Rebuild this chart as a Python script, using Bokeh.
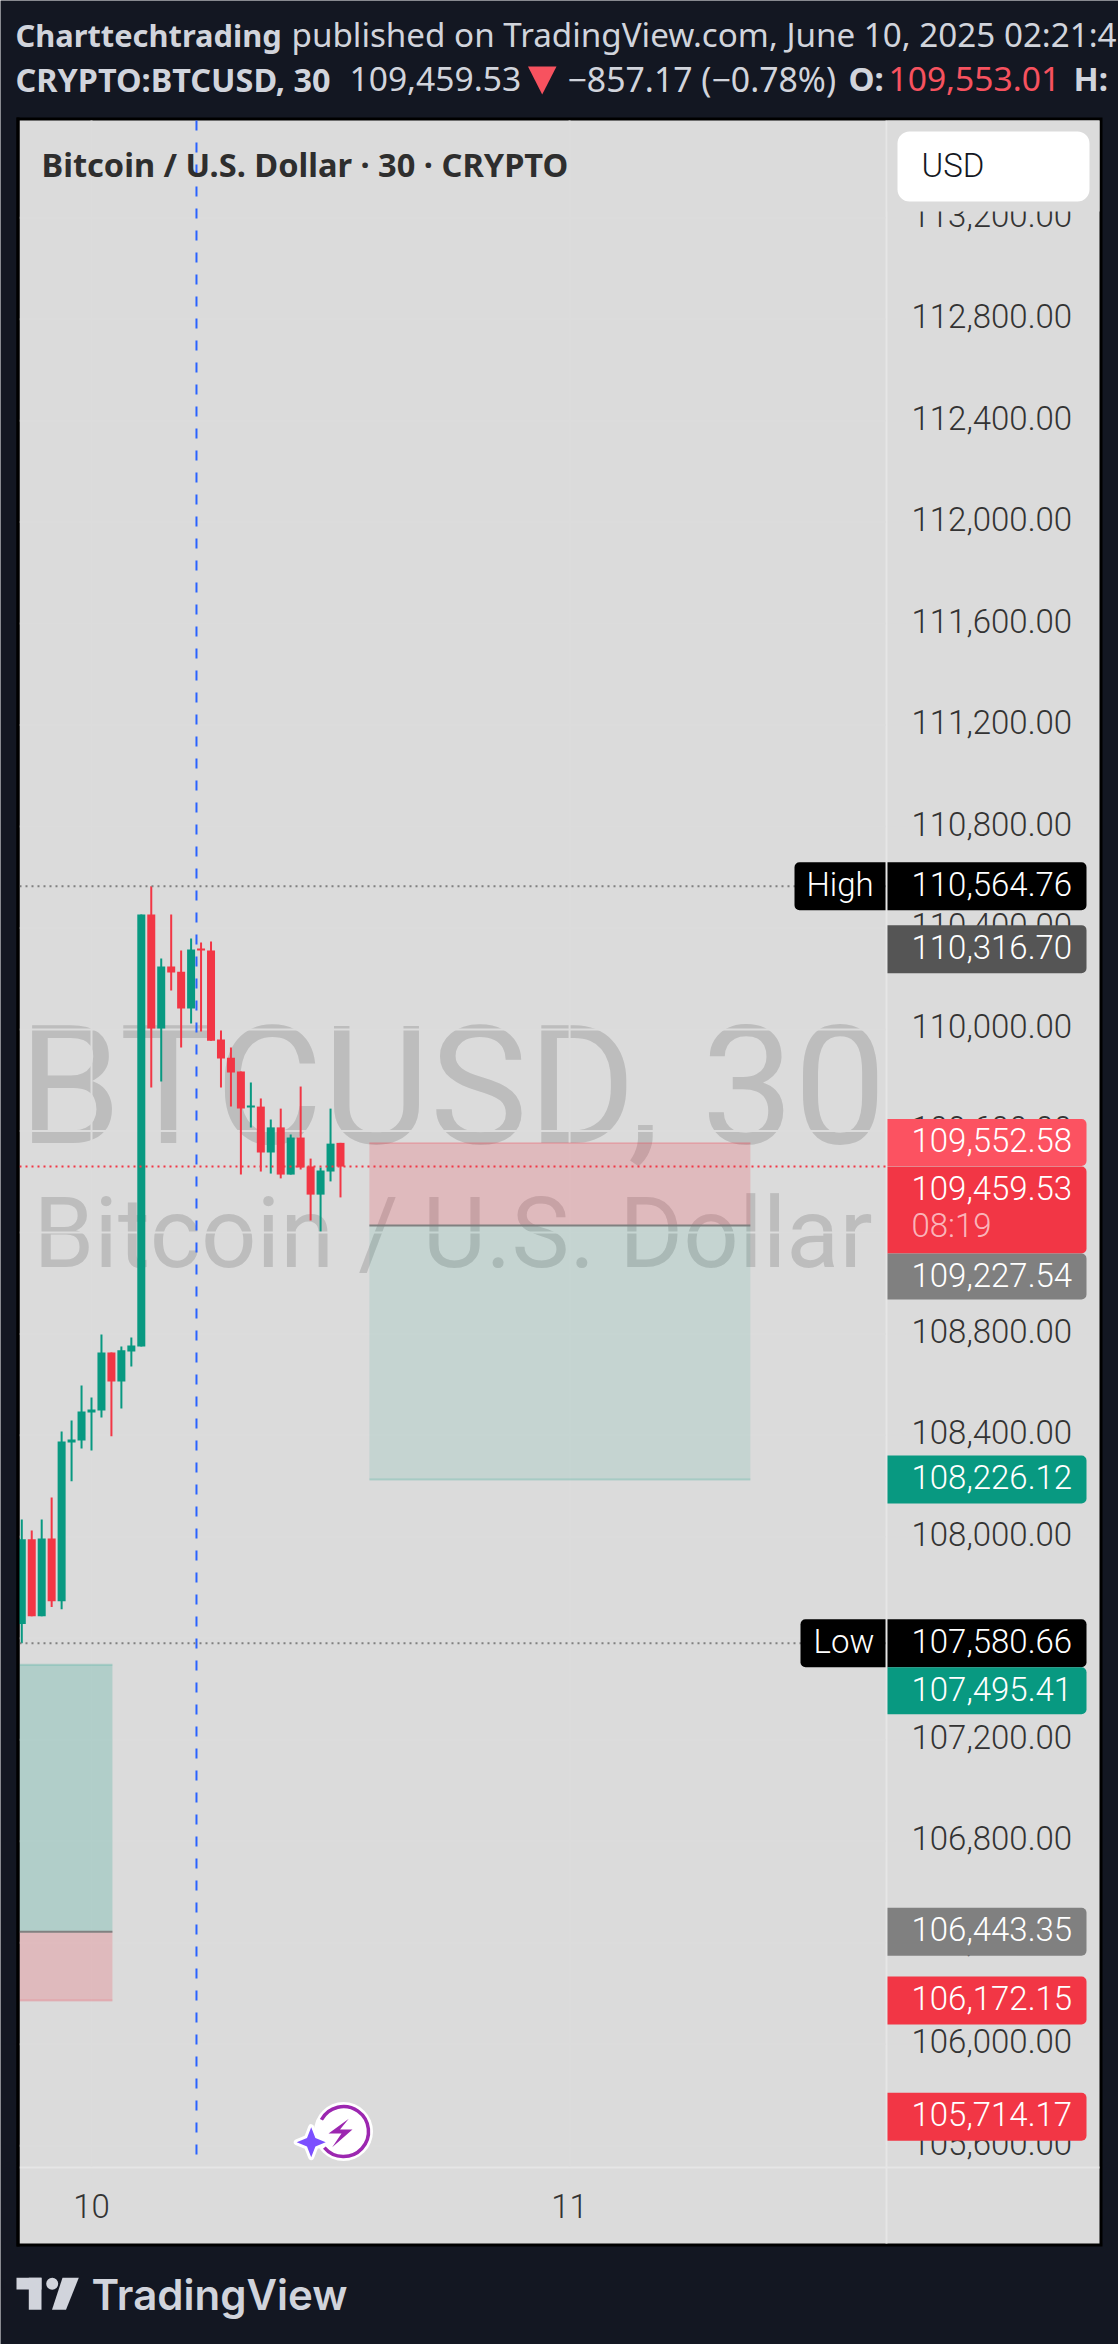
import math
from bokeh.core.properties import value
from bokeh.embed import file_html
from bokeh.models import BoxAnnotation, ColumnDataSource, Label, PolyAnnotation, Range1d
from bokeh.plotting import figure
from bokeh.resources import INLINE

# ---------- data ----------
bars = list(range(-7, 26))
opens = [107656, 107990, 107687, 107993, 107746, 108372, 108380, 108490, 108498, 108727, 108612, 108731, 108750,
         110453, 110004, 110248, 110228, 110083, 110319, 110311, 109960, 109889, 109834, 109692, 109696, 109515,
         109614, 109428, 109574, 109460, 109349, 109440, 109553.01]
highs = [108068, 108025, 108068, 108155, 108415, 108459, 108597, 108549, 108798, 108727, 108750, 108786, 110453,
         110564.76, 110280, 110453, 110311, 110359, 110343, 110347, 109996, 109929, 109834, 109791, 109728, 109645,
         109688, 109586, 109775, 109491, 109456, 109688, 109553.01]
lows = [107580.66, 107687, 107687, 107723, 107715, 108219, 108348, 108340, 108470, 108396, 108506, 108671, 108750,
        109771, 109795, 110154, 109929, 110024, 109992, 109956, 109771, 109696, 109428, 109614, 109440, 109432,
        109413, 109428, 109448, 109247, 109204, 109401, 109338]
closes = [107990, 107687, 107993, 107746, 108376, 108384, 108494, 108502, 108727, 108612, 108735, 108754, 110453,
          110004, 110248, 110225, 110083, 110315, 110311, 109956, 109886, 109830, 109688, 109700, 109515, 109614,
          109428, 109574, 109456, 109349, 109444, 109550, 109459.53]

price_ticks = [105600, 106000, 106400, 106800, 107200, 107600, 108000, 108400, 108800, 109200, 109600, 110000, 110400,
               110800, 111200, 111600, 112000, 112400, 112800, 113200]
price_tick_labels = ["105,600.00", "106,000.00", "106,400.00", "106,800.00", "107,200.00", "107,600.00", "108,000.00",
                     "108,400.00", "108,800.00", "109,200.00", "109,600.00", "110,000.00", "110,400.00", "110,800.00",
                     "111,200.00", "111,600.00", "112,000.00", "112,400.00", "112,800.00", "113,200.00"]
time_ticks = [0, 48]
time_labels = ["10", "11"]

tag_prices = [110564.76, 110316.70, 109552.58, 109459.53, 109227.54, 108226.12, 107580.66, 107495.41, 106443.35,
              106172.15, 105714.17]
tag_labels = ["110,564.76", "110,316.70", "109,552.58", "109,459.53", "109,227.54", "108,226.12", "107,580.66",
              "107,495.41", "106,443.35", "106,172.15", "105,714.17"]
tag_colors = ["#000000", "#555555", "#FC5261", "#F23645", "#808080", "#089981", "#000000", "#089981", "#808080",
              "#F23645", "#F23645"]
tag_shift = [0, 0, 0, 24, 52, 0, 0, 26.5, 0, 0, 0]
tag_height = [48, 48, 47, 87, 46, 48, 48, 47, 48, 48, 48]

short_pos = dict(right=66.15, left=27.9, stop=109552.58, entry=109227.54, target=108226.12)
long_pos = dict(right=2.1, left=-7.23, stop=106172.15, entry=106443.35, target=107495.41)
high_price, low_price, last_price = 110564.76, 107580.66, 109459.53
marker_bar = 10.54
marker_start = 105565

# ---------- scale of the picture ----------
BAR_PX = 9.96
BAR0_X = 91
REF_PRICE, REF_Y, PX_PER_USD = 110564.76, 885.7, 0.25368
W, H = 1118, 2344
FL, FR, FT, FB = 19, 885, 120, 2166


def xd(X):
    return (X - BAR0_X) / BAR_PX


def yd(Y):
    return REF_PRICE - (Y - REF_Y) / PX_PER_USD


BG, DARK, GREEN, RED, INK, PALE = "#DBDBDB", "#131722", "#089981", "#F23645", "#333333", "#D1D4DC"
LIGHT = "Roboto Light, Roboto"

p = figure(width=W, height=H, output_backend="svg", toolbar_location=None, tools="",
           x_range=Range1d(xd(0), xd(W)), y_range=Range1d(yd(H), yd(0)),
           x_axis_location=None, y_axis_location=None, min_border=0)
p.background_fill_color = DARK
p.border_fill_color = DARK
p.outline_line_color = None
p.grid.visible = False


def box(l, r, t, b, color, level="underlay", radius=0, alpha=1.0):
    a = BoxAnnotation(left=l, right=r, top=t, bottom=b, left_units="canvas", right_units="canvas",
                      top_units="canvas", bottom_units="canvas", fill_color=color, fill_alpha=alpha, line_color=None,
                      level=level, border_radius=radius)
    p.add_layout(a)
    return a


def text(t, X, Y, size, color=INK, font=LIGHT, style="normal", align="left", level="overlay", alpha=1.0):
    p.add_layout(Label(x=X, y=Y, x_units="canvas", y_units="canvas", text=t, text_font=font,
                       text_font_size=f"{size}px", text_font_style=style, text_color=color, text_alpha=alpha,
                       text_align=align, text_baseline="middle", level=level))


# pane, separators and frame
box(16, 1102, 117, 2246, "#000000")
box(19, 1099, 120, 2243, BG)
box(885, 887, 120, 2243, "#E6E6E6")
box(19, 1099, 2166, 2168, "#E6E6E6")
box(16, 19, 117, 2246, "#000000", level="overlay")

# watermark
text("BTCUSD, 30", 18, 1086, 165, "#BDBDBD", font="Roboto", level="underlay")
text("Bitcoin / U.S. Dollar", 33, 1233, 97.5, "#BDBDBD", font="Roboto", level="underlay")

# grid
p.segment(x0=[xd(FL)] * len(price_ticks), x1=[xd(FR)] * len(price_ticks), y0=price_ticks, y1=price_ticks,
          line_color="#DCDCDC", line_width=2)
p.segment(x0=time_ticks, x1=time_ticks, y0=[yd(FB)] * 2, y1=[yd(FT)] * 2, line_color="#DCDCDC", line_width=2)

# axis labels
p.text(x=[xd(911)] * len(price_ticks), y=price_ticks, text=price_tick_labels, text_font=value(LIGHT),
       text_font_size="33px", text_color=INK, text_align="left", text_baseline="middle", y_offset=-3)
p.text(x=time_ticks, y=[yd(2205)] * 2, text=time_labels, text_font=value(LIGHT), text_font_size="33px",
       text_color=INK, text_align="center", text_baseline="middle")

# position tools
for pos, green_alpha in ((short_pos, 0.10), (long_pos, 0.20)):
    lo, hi = sorted((pos["stop"], pos["entry"]))
    p.quad(left=[pos["left"]], right=[pos["right"]], top=[hi], bottom=[lo], fill_color=RED, fill_alpha=0.2,
           line_color=None)
    lo, hi = sorted((pos["target"], pos["entry"]))
    p.quad(left=[pos["left"]], right=[pos["right"]], top=[hi], bottom=[lo], fill_color=GREEN, fill_alpha=green_alpha,
           line_color=None)
    p.segment(x0=[pos["left"]], x1=[pos["right"]], y0=[pos["stop"]], y1=[pos["stop"]], line_color=RED, line_alpha=0.2,
              line_width=2)
    p.segment(x0=[pos["left"]], x1=[pos["right"]], y0=[pos["target"]], y1=[pos["target"]], line_color=GREEN,
              line_alpha=0.2, line_width=2)
    p.segment(x0=[pos["left"]], x1=[pos["right"]], y0=[pos["entry"]], y1=[pos["entry"]], line_color="#808080",
              line_width=2)

# candles
colors = [GREEN if c >= o else RED for o, c in zip(opens, closes)]
src = ColumnDataSource(dict(x=bars, o=opens, h=highs, l=lows, c=closes, color=colors,
                            top=[max(o, c) for o, c in zip(opens, closes)],
                            bottom=[min(o, c) for o, c in zip(opens, closes)]))
p.segment(x0="x", x1="x", y0="l", y1="h", source=src, line_color="color", line_width=2)
p.vbar(x="x", width=8 / BAR_PX, top="top", bottom="bottom", source=src, fill_color="color", line_color=None)

# vertical marker
p.segment(x0=[marker_bar], x1=[marker_bar], y0=[marker_start], y1=[yd(FT)], line_color="#2962FF", line_width=2,
          line_dash="10 12")

# dotted levels
for price, col in ((high_price, "#808080"), (low_price, "#808080"), (last_price, RED)):
    p.segment(x0=[xd(FL)], x1=[xd(FR)], y0=[price], y1=[price], line_color=col, line_width=2, line_dash="2 4")

# icon at the last bar
ic_x, ic_y = xd(343), yd(2131)
p.scatter(x=[ic_x], y=[ic_y], size=59, fill_color="#FFFFFF", line_color=None)
p.arc(x=[ic_x], y=[ic_y], radius=25, radius_units="screen", start_angle=math.radians(220),
      end_angle=math.radians(512), line_color="#9C27B0", line_width=3.5)
bolt_x = [348.3, 328, 341, 331.7, 352, 339.5]
bolt_y = [2118.3, 2133, 2133, 2146.7, 2129, 2129]
p.patch([xd(v) for v in bolt_x], [yd(v) for v in bolt_y], fill_color="#9C27B0", line_color=None)
star_dx = [0, 4.2, 14.5, 4.2, 0, -4.2, -14.5, -4.2]
star_dy = [-15, -4.2, 0, 4.2, 15, 4.2, 0, -4.2]
p.patch([xd(310.7 + v) for v in star_dx], [yd(2141.7 + v) for v in star_dy], fill_color="#7B4FFF", line_color="#FFFFFF",
        line_width=6, line_join="round")
p.patch([xd(310.7 + v) for v in star_dx], [yd(2141.7 + v) for v in star_dy], fill_color="#7B4FFF", line_color=None)

# price tags
for price, lab, col, shift, hgt in zip(tag_prices, tag_labels, tag_colors, tag_shift, tag_height):
    top = price + (24 - shift) / PX_PER_USD
    bottom = top - hgt / PX_PER_USD
    p.add_layout(BoxAnnotation(left=887, right=1086, top=top, bottom=bottom, left_units="canvas",
                               right_units="canvas", top_units="data", bottom_units="data", fill_color=col,
                               fill_alpha=1, line_color=None, level="overlay", border_radius=(0, 5, 5, 0)))
    p.add_layout(Label(x=911, y=price - (shift - 2.5) / PX_PER_USD, x_units="canvas", y_units="data", text=lab,
                       text_font=LIGHT, text_font_size="33px", text_color="#FFFFFF", text_baseline="middle",
                       level="overlay"))
text("08:19", 911, 1225, 33, "#FFFFFF", alpha=0.65)

# High / Low name tags
for name, price, left, tx in (("High", high_price, 794, 806), ("Low", low_price, 800, 813)):
    p.add_layout(BoxAnnotation(left=left, right=885, top=price + 24 / PX_PER_USD, bottom=price - 24 / PX_PER_USD,
                               left_units="canvas", right_units="canvas", top_units="data", bottom_units="data",
                               fill_color="#000000", fill_alpha=1, line_color=None, level="overlay",
                               border_radius=(5, 0, 0, 5)))
    p.add_layout(Label(x=tx, y=price + 1.5 / PX_PER_USD, x_units="canvas", y_units="data", text=name,
                       text_font=LIGHT, text_font_size="33px", text_color="#FFFFFF", text_baseline="middle",
                       level="overlay"))

# legend and currency button (its backing hides the top of the highest tick label)
text("Bitcoin / U.S. Dollar · 30 · CRYPTO", 41, 163.5, 32.6, "#2E2E2E", font="Noto Sans", style="bold")
box(887, 1099, 120, 211, BG, level="overlay")
box(897, 1089, 131, 201, "#FFFFFF", level="overlay", radius=12)
text("USD", 921, 164.5, 33, "#131722")

# header
HF = "Noto Sans"
text("Charttechtrading", 15, 34, 30.8, PALE, font=HF, style="bold")
text("published on TradingView.com, June 10, 2025 02:21:4", 291, 34, 33.2, PALE, font=HF)
text("CRYPTO:BTCUSD, 30", 15, 78, 32.4, PALE, font=HF, style="bold")
text("109,459.53", 349, 78, 33.6, PALE, font=HF)
p.add_layout(PolyAnnotation(xs=[527.5, 556, 541.7], ys=[66, 66, 94], xs_units="canvas",
                            ys_units="canvas", fill_color="#F7525F", fill_alpha=1, line_color=None, level="overlay"))
text("−857.17 (−0.78%)", 567, 78, 33.8, PALE, font=HF)
text("O:", 848, 78, 33, PALE, font=HF, style="bold")
text("109,553.01", 888, 78, 33.6, "#F7525F", font=HF)
text("H:", 1073, 78, 33, PALE, font=HF, style="bold")

# footer logo
box(16, 41, 2277.3, 2289, PALE, level="overlay")
box(28.3, 41, 2277.3, 2309.3, PALE, level="overlay")
box(45.7, 57.7, 2277.3, 2289.3, PALE, level="overlay", radius=6)
p.add_layout(PolyAnnotation(xs=[62, 78.3, 65.5, 51.5], ys=[2277.3, 2277.3, 2309.3, 2309.3], xs_units="canvas",
                            ys_units="canvas", fill_color=PALE, fill_alpha=1, line_color=None, level="overlay"))
text("TradingView", 91, 2294, 42, PALE, font="Inter SemiBold, Inter")

open("out.html", "w").write(file_html(p, INLINE))
